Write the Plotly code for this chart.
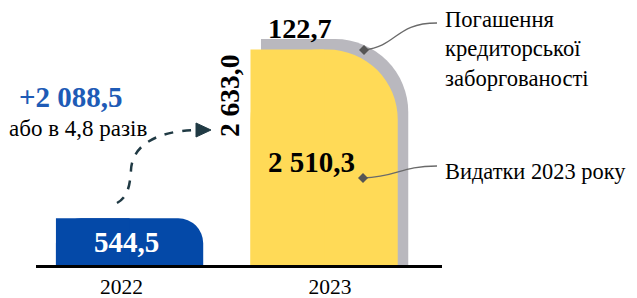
import plotly.graph_objects as go

# ---------------- data ----------------
years = ["2022", "2023"]
spending = [544.5, 2510.3]          # Видатки (2022, 2023)
arrears_2023 = 122.7                # Погашення кредиторської заборгованості
total_2023 = 2633.0                 # Видатки 2023 + погашення
increase = 2088.5
ratio = 4.8
legend_arrears = "Погашення<br>кредиторської<br>заборгованості"
legend_spending = "Видатки 2023 року"


def uk(v):
    s = f"{v:,.1f}"
    return s.replace(",", " ").replace(".", ",")


# ---------------- layout constants ----------------
OFF = 8                      # page body margin
W, H = 637, 298
# plot area in page (reference) pixels
PL, PR, PT, PB = 36, 442, 10, 265
L, R, T, B = PL - OFF, PR - OFF, PT - OFF, PB - OFF
XR = [-0.481, 1.606]
YMAX = (B - T) / 0.0858
BW = 0.757
GO = 0.054
BLUE = "#0449A8"
YELLOW = "#FFDA57"
GREY = "#B9B8BE"
SERIF = "Liberation Serif"


def pxx(px):
    return (px - PL) / (PR - PL)


def pyy(py):
    return (PB - py) / (PB - PT)


def dx(px):
    return XR[0] + (px - PL) / (PR - PL) * (XR[1] - XR[0])


fig = go.Figure()


def add_bar(x, y, color, radius):
    fig.add_trace(go.Bar(x=[x], y=[y], width=BW, marker=dict(color=color, cornerradius=radius,
                                                           line=dict(width=0)),
                         hoverinfo="skip"))
    fig.add_trace(go.Bar(x=[x], y=[y], width=BW / 2, offset=-BW / 2,
                         marker=dict(color=color, line=dict(width=0)), hoverinfo="skip"))


add_bar(1 + GO, total_2023, GREY, "50%")
add_bar(1, spending[1], YELLOW, 70)
add_bar(0, spending[0], BLUE, 25)

fig.update_layout(
    width=W, height=H, barmode="overlay", showlegend=False,
    margin=dict(l=L, r=W - R, t=T, b=H - B, autoexpand=False),
    paper_bgcolor="white", plot_bgcolor="white",
    font=dict(family=SERIF),
    xaxis=dict(range=XR, showgrid=False, zeroline=False, showline=True, linecolor="black",
               linewidth=3, ticks="", tickvals=[dx(121.5), dx(330)], ticktext=years,
               automargin=False, ticklabelstandoff=0,
               tickfont=dict(family=SERIF, size=21.5, color="black")),
    yaxis=dict(range=[0, YMAX], visible=False, automargin=False),
    hovermode=False,
)


def ann(text, px, py, size, color="black", bold=False, angle=0, xanchor="center"):
    fig.add_annotation(text=f"<b>{text}</b>" if bold else text, xref="paper", yref="paper",
                       x=pxx(px), y=pyy(py), showarrow=False, xanchor=xanchor, yanchor="middle",
                       textangle=angle, align="left", borderpad=0,
                       font=dict(family=SERIF, size=size, color=color))


ann("+" + uk(increase), 71, 97, 29, "#1E5BB6", bold=True)
ann(f"або в {uk(ratio)} разів", 78, 128, 23)
ann(uk(total_2023), 229, 96, 27.5, bold=True, angle=-90)
ann(uk(arrears_2023), 300, 29, 28.3, bold=True)
ann(uk(spending[1]), 311, 162, 29, bold=True)
ann(uk(spending[0]), 126, 242, 29, "white", bold=True)
ann(legend_arrears, 444, 49, 22.6, xanchor="left")
ann(legend_spending, 444, 171, 22.4, xanchor="left")


def P(px, py):
    return f"{pxx(px):.5f},{pyy(py):.5f}"


# dashed arrow
fig.add_shape(type="path", xref="paper", yref="paper",
              path=f"M {P(117,203)} C {P(128,197)} {P(130,185)} {P(131,170)} "
                   f"C {P(132,148)} {P(152,131)} {P(197,130)}",
              line=dict(color="#203A44", width=2.5, dash="dash"))
fig.add_shape(type="path", xref="paper", yref="paper",
              path=f"M {P(196,123)} L {P(211,130)} L {P(196,137)} Z",
              fillcolor="#203A44", line=dict(color="#203A44", width=1))

# leader lines
fig.add_shape(type="path", xref="paper", yref="paper",
              path=f"M {P(364,50)} C {P(398,46)} {P(395,23)} {P(437,23)}",
              line=dict(color="#6A6A6A", width=1.3))
fig.add_shape(type="path", xref="paper", yref="paper",
              path=f"M {P(363,178)} C {P(398,177)} {P(400,166)} {P(437,166)}",
              line=dict(color="#6A6A6A", width=1.3))
for (cx, cy) in [(364, 50), (363, 178)]:
    fig.add_shape(type="path", xref="paper", yref="paper",
                  path=f"M {P(cx-5,cy)} L {P(cx,cy-5)} L {P(cx+5,cy)} L {P(cx,cy+5)} Z",
                  fillcolor="#555555", line=dict(width=0))

fig.write_html("out.html")
